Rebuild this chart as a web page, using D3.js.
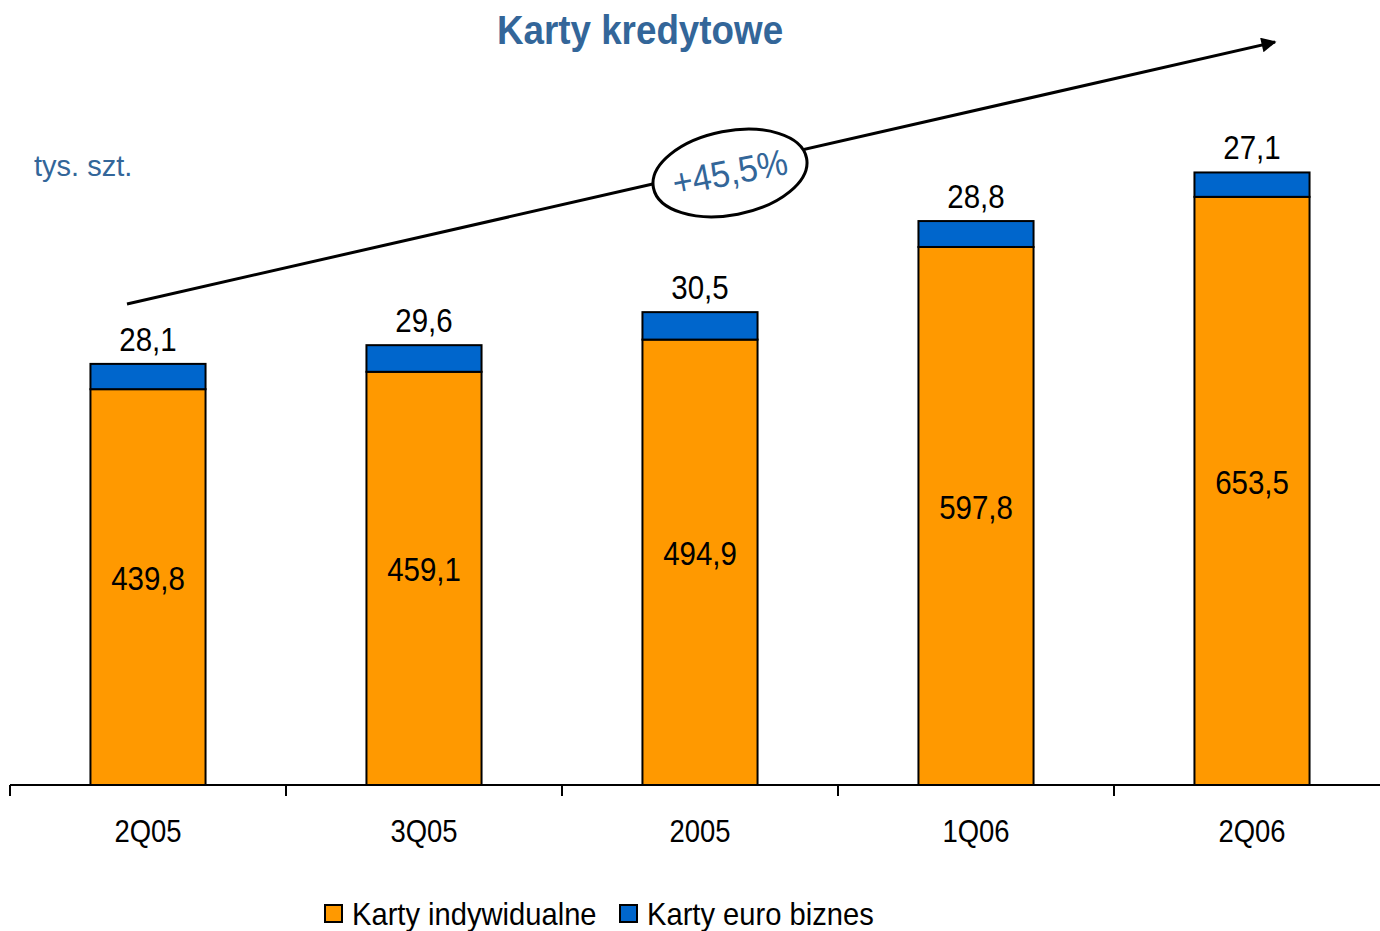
<!DOCTYPE html>
<html>
<head>
<meta charset="utf-8">
<script src="https://cdn.jsdelivr.net/npm/d3@7"></script>
<style>
  body { margin: 0; background: #fff; }
  svg { display: block; font-family: "Liberation Sans", Arial, sans-serif; }
</style>
</head>
<body>
<div id="chart"></div>
<script>
var categories = ["2Q05", "3Q05", "2005", "1Q06", "2Q06"];
var indywidualne = [439.8, 459.1, 494.9, 597.8, 653.5];
var euroBiznes = [28.1, 29.6, 30.5, 28.8, 27.1];
var seriesNames = ["Karty indywidualne", "Karty euro biznes"];
var colors = ["#FF9900", "#0066CC"];

var width = 1380, height = 931;
var baseY = 785;
var fmt = v => d3.format(".1f")(v).replace(".", ",");

var svg = d3.select("#chart").append("svg")
    .attr("width", width)
    .attr("height", height);

var x = d3.scaleBand()
    .domain(categories)
    .range([10, 1390])
    .padding(0);

var y = d3.scaleLinear()
    .domain([0, 700])
    .range([baseY, 155]);

var barW = x.bandwidth() * 0.417;

var rows = categories.map((c, i) => ({cat: c, a: indywidualne[i], b: euroBiznes[i]}));

// text squeezed horizontally, like the original rendering
function squeezed(sel, px, py, sx) {
    return sel.attr("transform", (d, i) =>
        "translate(" + (typeof px == "function" ? px(d, i) : px) + "," +
        (typeof py == "function" ? py(d, i) : py) + ") scale(" + sx + ",1)");
}

// title
svg.append("text")
    .attr("transform", "translate(640,44) scale(0.92,1)")
    .attr("text-anchor", "middle")
    .style("font-size", "40px")
    .style("font-weight", "bold")
    .attr("fill", "#336699")
    .text("Karty kredytowe");

svg.append("text")
    .attr("x", 34)
    .attr("y", 176)
    .style("font-size", "29px")
    .attr("fill", "#336699")
    .text("tys. szt.");

// bars
var g = svg.selectAll(".bar")
    .data(rows)
    .enter().append("g")
    .attr("class", "bar");

g.append("rect")
    .attr("x", d => x(d.cat) + (x.bandwidth() - barW) / 2)
    .attr("y", d => y(d.a))
    .attr("width", barW)
    .attr("height", d => baseY - y(d.a))
    .attr("fill", colors[0])
    .attr("stroke", "#000")
    .attr("stroke-width", 2);

g.append("rect")
    .attr("x", d => x(d.cat) + (x.bandwidth() - barW) / 2)
    .attr("y", d => y(d.a + d.b))
    .attr("width", barW)
    .attr("height", d => y(d.a) - y(d.a + d.b))
    .attr("fill", colors[1])
    .attr("stroke", "#000")
    .attr("stroke-width", 2);

g.append("text")
    .call(squeezed, d => x(d.cat) + x.bandwidth() / 2, d => (y(d.a) + baseY) / 2 + 3, 0.88)
    .attr("text-anchor", "middle")
    .style("font-size", "33.5px")
    .attr("fill", "#000")
    .text(d => fmt(d.a));

g.append("text")
    .call(squeezed, d => x(d.cat) + x.bandwidth() / 2, d => y(d.a + d.b) - 13, 0.88)
    .attr("text-anchor", "middle")
    .style("font-size", "33.5px")
    .attr("fill", "#000")
    .text(d => fmt(d.b));

// axis
var axis = svg.append("g")
    .attr("transform", "translate(0," + baseY + ")");
axis.append("line")
    .attr("x1", 10).attr("x2", width)
    .attr("stroke", "#000").attr("stroke-width", 2);
axis.selectAll(".tick")
    .data(categories)
    .enter().append("line")
    .attr("x1", d => x(d)).attr("x2", d => x(d))
    .attr("y1", 0).attr("y2", 11)
    .attr("stroke", "#000").attr("stroke-width", 2);
axis.selectAll(".lbl")
    .data(categories)
    .enter().append("text")
    .call(squeezed, d => x(d) + x.bandwidth() / 2, 57, 0.9)
    .attr("text-anchor", "middle")
    .style("font-size", "30.5px")
    .attr("fill", "#000")
    .text(d => d);

// growth arrow
svg.append("defs").append("marker")
    .attr("id", "arrow")
    .attr("viewBox", "0 0 10 10")
    .attr("refX", 9).attr("refY", 5)
    .attr("markerWidth", 6).attr("markerHeight", 5)
    .attr("markerUnits", "strokeWidth")
    .attr("orient", "auto")
    .append("path")
    .attr("d", "M0,0 L10,5 L0,10 z")
    .attr("fill", "#000");

svg.append("line")
    .attr("x1", 127).attr("y1", 304)
    .attr("x2", 1275).attr("y2", 42)
    .attr("stroke", "#000").attr("stroke-width", 3)
    .attr("marker-end", "url(#arrow)");

var note = svg.append("g")
    .attr("transform", "translate(730,173) rotate(-11)");
note.append("ellipse")
    .attr("rx", 78).attr("ry", 42)
    .attr("fill", "#fff")
    .attr("stroke", "#000").attr("stroke-width", 3);
note.append("text")
    .attr("transform", "translate(0,12) scale(0.92,1)")
    .attr("text-anchor", "middle")
    .style("font-size", "37px")
    .attr("fill", "#336699")
    .text("+45,5%");

// legend
var legend = svg.append("g");
var legX = [325, 620];
seriesNames.forEach((s, i) => {
    legend.append("rect")
        .attr("x", legX[i]).attr("y", 905)
        .attr("width", 17).attr("height", 17)
        .attr("fill", colors[i])
        .attr("stroke", "#000").attr("stroke-width", 2);
    legend.append("text")
        .attr("transform", "translate(" + (legX[i] + 27) + ",925) scale(0.94,1)")
        .style("font-size", "31px")
        .attr("fill", "#000")
        .text(s);
});
</script>
</body>
</html>
